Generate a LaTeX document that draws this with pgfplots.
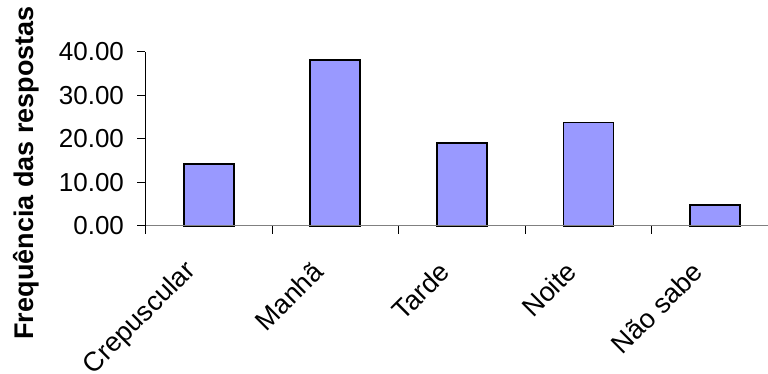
\documentclass[border=0pt]{standalone}
\usepackage{fontspec}
\setmainfont{Liberation Sans}
\usepackage{pgfplots}
\pgfplotsset{compat=1.18}

\definecolor{barfill}{HTML}{9999FF}
\definecolor{axisgray}{HTML}{808080}

\begin{document}
\begin{tikzpicture}[x=1pt,y=1pt]
\begin{axis}[
  scale only axis,
  width=622.5pt, height=174pt,
  xmin=-0.5, xmax=4.42,
  ymin=0, ymax=40,
  axis lines=left,
  axis on top,
  axis line style={-},
  x axis line style={draw=axisgray, line width=1pt},
  y axis line style={draw=black, line width=1pt},
  tick align=outside,
  major tick length=8pt,
  tick style={black, line width=1pt},
  font=\fontsize{26}{31}\selectfont,
  ytick={0,10,20,30,40},
  /pgf/number format/.cd, fixed, fixed zerofill, precision=2, assume math mode=true,
  /pgfplots/.cd,
  yticklabel style={xshift=-10pt},
  xtick={-0.5,0.5,1.5,2.5,3.5},
  xticklabels={},
  extra x ticks={0,1,2,3,4},
  extra x tick labels={Crepuscular,Manhã,Tarde,Noite,Não sabe},
  extra x tick style={
    major tick length=0pt,
    xticklabel style={font=\fontsize{27}{32}\selectfont,
      xshift=-17pt, yshift=-41pt, rotate=45, anchor=east, inner sep=0pt},
  },
  ylabel={\fontsize{27}{32}\selectfont\bfseries Frequência das respostas},
  ylabel style={at={(rel axis cs:-0.192,0.305)}, anchor=center, rotate=0},
  clip=false,
]
\addplot[ybar, bar width=0.395, fill=barfill, draw=black, line width=1.6pt]
  coordinates {(0,14.29) (1,38.10) (2,19.05) (3,23.81) (4,4.76)};
\end{axis}
\pgfresetboundingbox
\path[use as bounding box] (-145.5pt,-148pt) rectangle (622.5pt,226pt);
\end{tikzpicture}
\end{document}
